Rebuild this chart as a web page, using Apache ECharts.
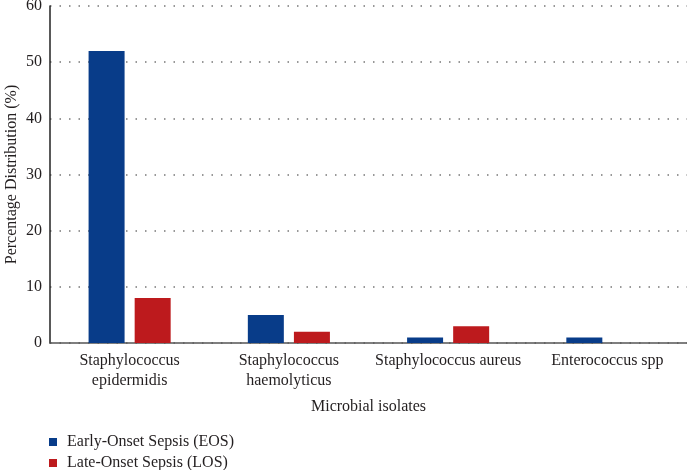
<!DOCTYPE html>
<html>
<head>
<meta charset="utf-8">
<script src="https://cdn.jsdelivr.net/npm/echarts@6/dist/echarts.min.js"></script>
<style>
  html, body { margin: 0; padding: 0; background: #fff; }
  #main { width: 687px; height: 470px; }
</style>
</head>
<body>
<div id="main"></div>
<script>
var categories = ['Staphylococcus\nepidermidis', 'Staphylococcus\nhaemolyticus', 'Staphylococcus aureus', 'Enterococcus spp'];
var eosValues = [52, 5, 1, 1];
var losValues = [8, 2, 3, 0];
var seriesNames = ['Early-Onset Sepsis (EOS)', 'Late-Onset Sepsis (LOS)'];

var chart = echarts.init(document.getElementById('main'));
var textColor = '#231f20';
var font = '"Liberation Serif", "DejaVu Serif", serif';

var option = {
    animation: false,
    textStyle: { fontFamily: font, color: textColor },
    grid: { left: 50, right: 0, top: 6, bottom: 127, outerBoundsMode: 'none', containLabel: false },
    legend: {
        orient: 'vertical',
        left: 44,
        top: 429,
        height: 42,
        itemWidth: 8,
        itemHeight: 8,
        itemGap: 5,
        icon: 'rect',
        data: seriesNames,
        textStyle: { fontFamily: font, fontSize: 16, color: textColor, padding: [0, 0, 0, 5] }
    },
    xAxis: {
        type: 'category',
        data: categories,
        name: 'Microbial isolates',
        nameLocation: 'middle',
        nameGap: 56,
        nameTextStyle: { fontFamily: font, fontSize: 16, color: textColor },
        axisLine: { lineStyle: { color: '#555', width: 1.5 } },
        axisTick: { show: false },
        axisLabel: { fontFamily: font, fontSize: 16, color: textColor, lineHeight: 20, margin: 8, interval: 0 }
    },
    yAxis: {
        type: 'value',
        min: 0,
        max: 60,
        interval: 10,
        name: 'Percentage Distribution (%)',
        nameLocation: 'middle',
        nameGap: 30,
        nameMoveOverlap: false,
        nameTextStyle: { fontFamily: font, fontSize: 16, color: textColor },
        axisLine: { show: true, lineStyle: { color: '#222', width: 1.5 } },
        axisTick: { show: false },
        axisLabel: { fontFamily: font, fontSize: 16, color: textColor, margin: 8 },
        splitLine: { show: true, lineStyle: { type: [1.5, 8], color: '#777', width: 1.5 } }
    },
    series: [
        {
            name: seriesNames[0],
            type: 'bar',
            data: eosValues,
            barWidth: 36,
            barGap: '28%',
            itemStyle: { color: '#083c89' }
        },
        {
            name: seriesNames[1],
            type: 'bar',
            data: losValues,
            barWidth: 36,
            itemStyle: { color: '#bd1a1d' }
        }
    ]
};

chart.setOption(option);
</script>
</body>
</html>
